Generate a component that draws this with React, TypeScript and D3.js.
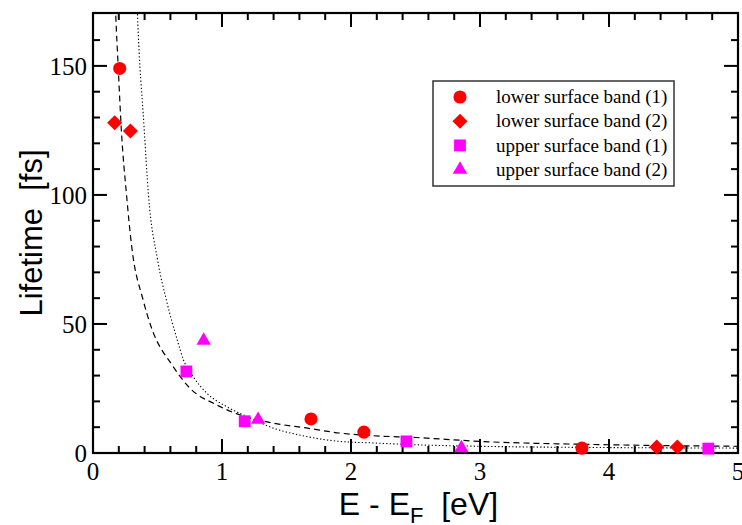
import React, { useEffect, useRef } from 'react';
import * as d3 from 'd3';

// measured lifetimes [eV, fs]
const lowerBand1: [number, number][] = [[0.207, 149], [1.69, 13.2], [2.10, 8.1], [3.79, 1.9]];
const lowerBand2: [number, number][] = [[0.168, 128], [0.29, 124.8], [4.37, 2.3], [4.53, 2.3]];
const upperBand1: [number, number][] = [[0.724, 31.6], [1.176, 12.3], [2.43, 4.5], [4.77, 1.7]];
const upperBand2: [number, number][] = [[0.858, 43.6], [1.28, 12.9], [2.856, 1.9]];

// model curves
const dashedCurve: [number, number][] = [
  [0.165, 185], [0.176, 170], [0.195, 150], [0.22, 125], [0.26, 100], [0.30, 80],
  [0.388, 59.4], [0.45, 49], [0.62, 33.6], [0.75, 25.2], [0.956, 18.7], [1.137, 14.8],
  [1.395, 11.6], [1.654, 9.7], [1.91, 7.75], [2.17, 6.7], [2.5, 6.0], [3.0, 4.5],
  [4.0, 3.2], [5.0, 2.6],
];
const dottedCurve: [number, number][] = [
  [0.335, 185], [0.345, 170], [0.395, 127], [0.43, 100], [0.50, 75], [0.57, 59],
  [0.655, 43.5], [0.70, 36.2], [0.775, 29.7], [0.88, 23.3], [1.034, 18], [1.19, 14.2],
  [1.395, 9.7], [1.654, 6.4], [1.91, 4.5], [2.17, 3.9], [2.5, 3.2], [3.0, 2.6],
  [4.0, 2.1], [5.0, 1.9],
];

const xTicks = [0, 1, 2, 3, 4, 5];
const yTicks = [0, 50, 100, 150];
const legendLabels = [
  'lower surface band (1)',
  'lower surface band (2)',
  'upper surface band (1)',
  'upper surface band (2)',
];

const RED = '#ff0000';
const MAGENTA = '#ff00ff';

export default function App() {
  const ref = useRef<SVGSVGElement>(null);

  useEffect(() => {
    const W = 742;
    const H = 525;
    const margin = { top: 13, right: 4, bottom: 72, left: 93 };
    const width = W - margin.left - margin.right;
    const height = H - margin.top - margin.bottom;

    const root = d3.select(ref.current);
    root.selectAll('*').remove();
    root.attr('width', W).attr('height', H);

    const svg = root.append('g').attr('transform', `translate(${margin.left},${margin.top})`);

    const x = d3.scaleLinear().domain([0, 5]).range([0, width]);
    const y = d3.scaleLinear().domain([0, 170.5]).range([height, 0]);

    svg.append('defs').append('clipPath').attr('id', 'plotclip')
      .append('rect').attr('width', width).attr('height', height);

    const line = d3.line<[number, number]>()
      .x(d => x(d[0]))
      .y(d => y(d[1]))
      .curve(d3.curveMonotoneX);

    const curves = svg.append('g').attr('clip-path', 'url(#plotclip)');
    curves.append('path').datum(dashedCurve)
      .attr('d', line).attr('fill', 'none').attr('stroke', '#000')
      .attr('stroke-width', 1.2).attr('stroke-dasharray', '6,4');
    curves.append('path').datum(dottedCurve)
      .attr('d', line).attr('fill', 'none').attr('stroke', '#000')
      .attr('stroke-width', 1.1).attr('stroke-dasharray', '1.3,2.2');

    // ticks on all four sides, pointing inward
    const minorX = d3.range(0, 5.0001, 0.2);
    const minorY = d3.range(0, 170, 10);
    const ticks = svg.append('g').attr('stroke', '#000').attr('stroke-width', 2);
    minorX.forEach(v => {
      const major = Math.abs(v - Math.round(v)) < 1e-6;
      const len = major ? 14 : 7;
      ticks.append('line').attr('x1', x(v)).attr('x2', x(v)).attr('y1', height).attr('y2', height - len);
      ticks.append('line').attr('x1', x(v)).attr('x2', x(v)).attr('y1', 0).attr('y2', len);
    });
    minorY.forEach(v => {
      const major = v % 50 === 0;
      const len = major ? 14 : 7;
      ticks.append('line').attr('x1', 0).attr('x2', len).attr('y1', y(v)).attr('y2', y(v));
      ticks.append('line').attr('x1', width).attr('x2', width - len).attr('y1', y(v)).attr('y2', y(v));
    });

    svg.append('rect').attr('width', width).attr('height', height)
      .attr('fill', 'none').attr('stroke', '#000').attr('stroke-width', 2.2);

    const serif = "'Liberation Serif', 'Times New Roman', serif";
    const sans = "'Liberation Sans', Arial, Helvetica, sans-serif";

    svg.append('g').selectAll('text').data(xTicks).enter().append('text')
      .attr('x', d => x(d)).attr('y', height + 27)
      .attr('text-anchor', 'middle').attr('font-family', serif).attr('font-size', 25)
      .text(d => d);
    svg.append('g').selectAll('text').data(yTicks).enter().append('text')
      .attr('x', -6).attr('y', d => y(d)).attr('dy', '0.36em')
      .attr('text-anchor', 'end').attr('font-family', serif).attr('font-size', 25)
      .text(d => d);

    const xl = svg.append('text')
      .attr('x', width / 2 + 3).attr('y', height + 62)
      .attr('text-anchor', 'middle').attr('font-family', sans).attr('font-size', 32);
    xl.append('tspan').text('E - E');
    xl.append('tspan').attr('font-size', 22).attr('dy', 8).text('F');
    xl.append('tspan').attr('dy', -8).text('\u00a0 [eV]');

    svg.append('text')
      .attr('transform', `translate(${42 - margin.left},${height / 2}) rotate(-90)`)
      .attr('text-anchor', 'middle').attr('font-family', sans).attr('font-size', 31)
      .text('Lifetime\u00a0 [fs]');

    const series = [
      { data: lowerBand1, type: d3.symbolCircle, size: 135, color: RED },
      { data: lowerBand2, type: d3.symbolDiamond2, size: 145, color: RED },
      { data: upperBand1, type: d3.symbolSquare, size: 140, color: MAGENTA },
      { data: upperBand2, type: d3.symbolTriangle, size: 90, color: MAGENTA },
    ];

    series.forEach(s => {
      svg.append('g').selectAll('path').data(s.data).enter().append('path')
        .attr('transform', d => `translate(${x(d[0])},${y(d[1])})`)
        .attr('d', d3.symbol().type(s.type).size(s.size)())
        .attr('fill', s.color);
    });

    // legend
    const lg = root.append('g').attr('transform', 'translate(433,81)');
    lg.append('rect').attr('width', 241).attr('height', 105)
      .attr('fill', '#fff').attr('stroke', '#333').attr('stroke-width', 1.5);
    series.forEach((s, i) => {
      const row = lg.append('g').attr('transform', `translate(0,${16 + i * 24.2})`);
      row.append('path').attr('transform', 'translate(27,0)')
        .attr('d', d3.symbol().type(s.type).size(s.size)())
        .attr('fill', s.color);
      row.append('text').attr('x', 63).attr('dy', '0.33em')
        .attr('font-family', serif).attr('font-size', 19)
        .text(legendLabels[i]);
    });
  }, []);

  return (
    <div style={{ position: 'absolute', left: 0, top: 0, background: '#fff' }}>
      <svg ref={ref}></svg>
    </div>
  );
}
